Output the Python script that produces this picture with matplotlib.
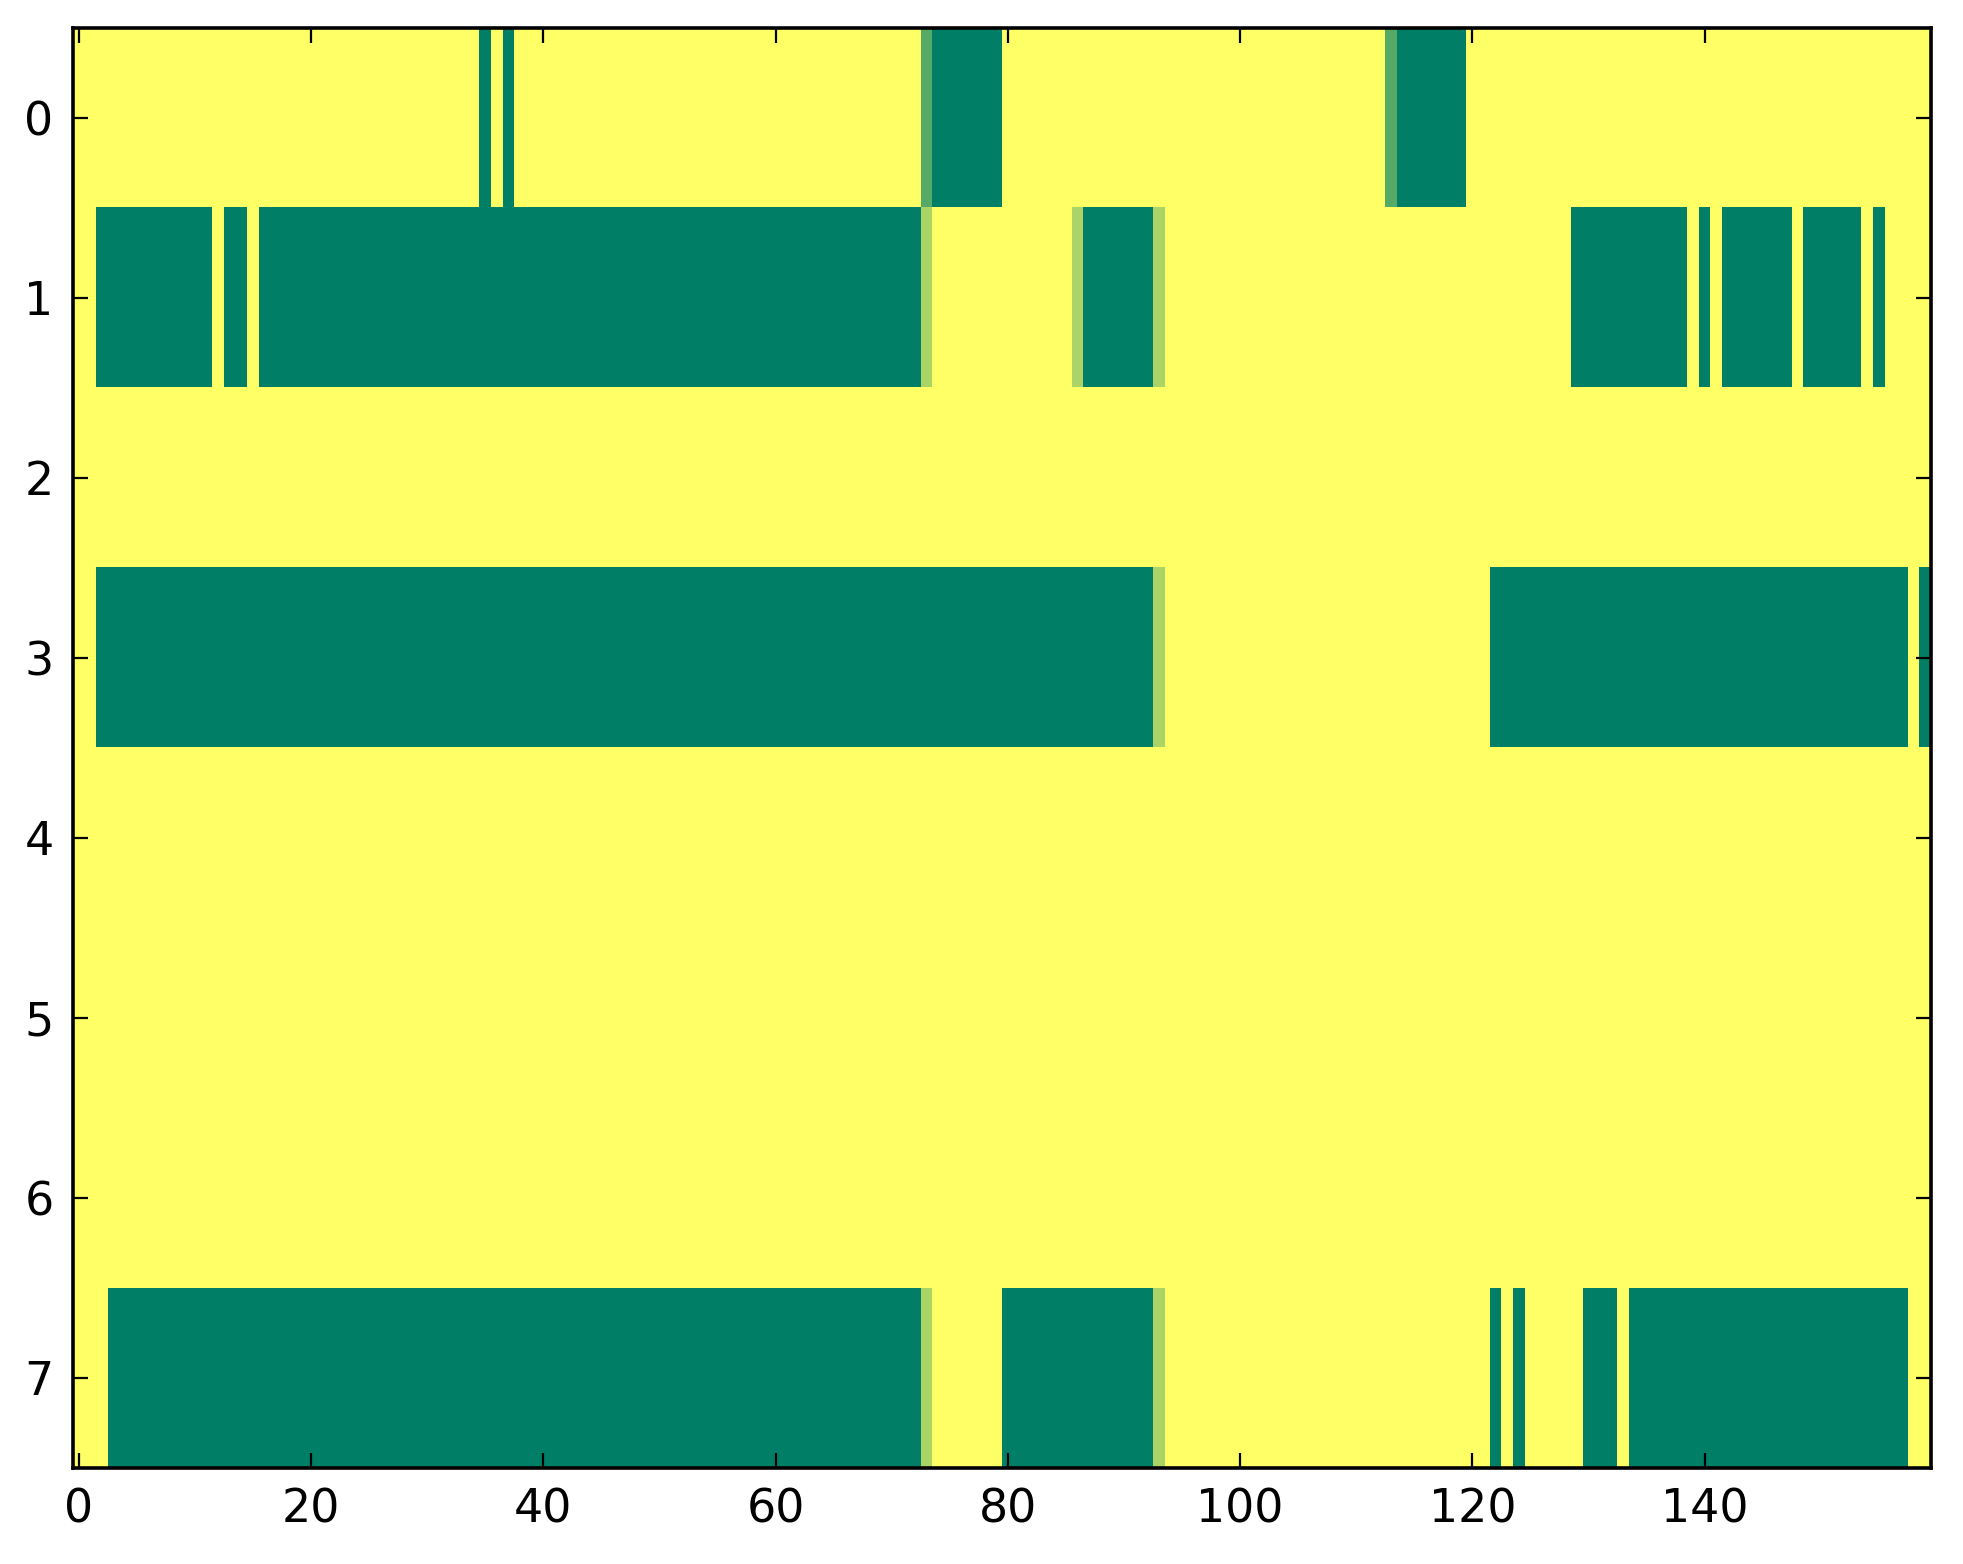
import matplotlib
matplotlib.use("Agg")
import matplotlib.pyplot as plt
import numpy as np

# one string per row, one digit per column (0 = green ... 3 = yellow)
row_0 = "".join([
    "3333333333", "3333333333", "3333333333", "3333303033",
    "3333333333", "3333333333", "3333333333", "3331000000",
    "3333333333", "3333333333", "3333333333", "3331000000",
    "3333333333", "3333333333", "3333333333", "3333333333",
])
row_1 = "".join([
    "3300000000", "0030030000", "0000000000", "0000000000",
    "0000000000", "0000000000", "0000000000", "0002333333",
    "3333332000", "0002333333", "3333333333", "3333333333",
    "3333333330", "0000000003", "0300000030", "0000303333",
])
row_2 = "".join(["3333333333"] * 16)
row_3 = "".join([
    "3300000000", "0000000000", "0000000000", "0000000000",
    "0000000000", "0000000000", "0000000000", "0000000000",
    "0000000000", "0002333333", "3333333333", "3333333333",
    "3300000000", "0000000000", "0000000000", "0000000030",
])
row_4 = "".join(["3333333333"] * 16)
row_5 = "".join(["3333333333"] * 16)
row_6 = "".join(["3333333333"] * 16)
row_7 = "".join([
    "3330000000", "0000000000", "0000000000", "0000000000",
    "0000000000", "0000000000", "0000000000", "0002333333",
    "0000000000", "0002333333", "3333333333", "3333333333",
    "3303033333", "0003000000", "0000000000", "0000000033",
])
rows = [row_0, row_1, row_2, row_3, row_4, row_5, row_6, row_7]

x_ticks = [0, 20, 40, 60, 80, 100, 120, 140]
y_ticks = [0, 1, 2, 3, 4, 5, 6, 7]

data = np.array([[int(c) for c in r] for r in rows], dtype=float)

fig = plt.figure(figsize=(1963 / 200, 1564 / 200), dpi=200)
ax = fig.add_axes([0.0372, 0.0614, 0.9465, 0.921])
ax.imshow(data, cmap="summer", vmin=0, vmax=3, aspect="auto",
          interpolation="nearest")

ax.set_xticks(x_ticks)
ax.set_yticks(y_ticks)
ax.tick_params(which="both", direction="in", top=True, right=True,
               length=5.4, width=0.8, labelsize=16.5, pad=7)
for sp in ax.spines.values():
    sp.set_linewidth(1.3)

plt.savefig("out.png", dpi=200)
plt.close()
